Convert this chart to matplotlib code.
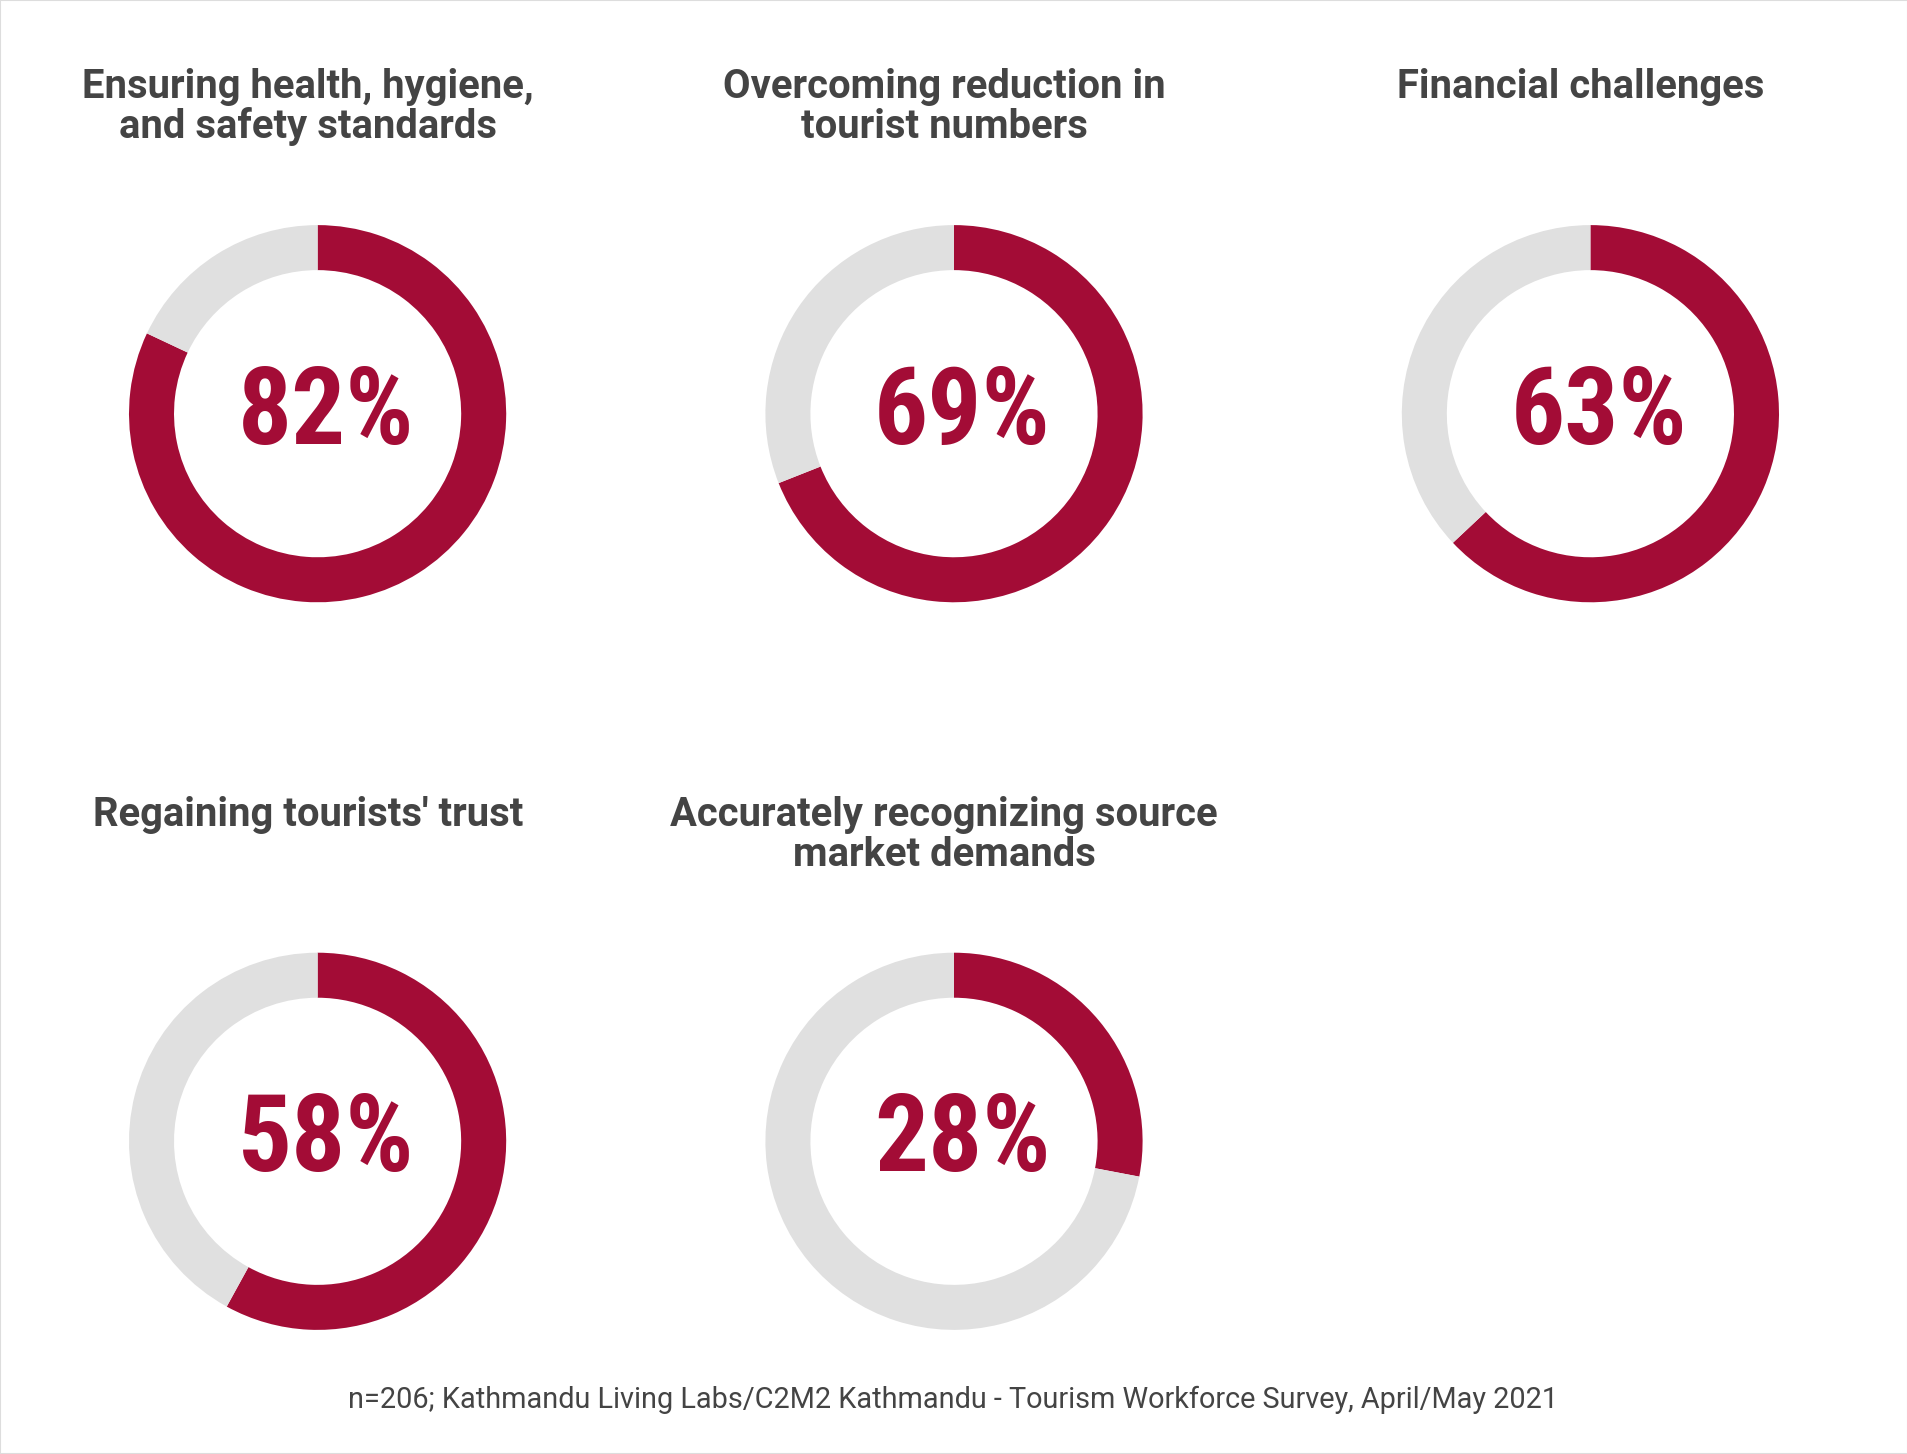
import matplotlib
matplotlib.use("Agg")
import matplotlib.pyplot as plt
from matplotlib.patches import Rectangle

# ---- data ----
titles = [
    "Ensuring health, hygiene,\nand safety standards",
    "Overcoming reduction in\ntourist numbers",
    "Financial challenges",
    "Regaining tourists' trust",
    "Accurately recognizing source\nmarket demands",
]
values = [82, 69, 63, 58, 28]
footer = "n=206; Kathmandu Living Labs/C2M2 Kathmandu - Tourism Workforce Survey, April/May 2021"

RED = "#A30C36"
GRAY = "#E0E0E0"
TXT = "#444444"

W, H = 1908, 1454
fig = plt.figure(figsize=(W / 100, H / 100), dpi=100)
fig.patch.set_facecolor("white")

# reference layout measured on a 1568-wide basis
BW, BH = 1568.0, 1195.0
centers_x = [261, 784, 1307]
centers_y = [340, 938]
R = 155.0
ring = 37.0

pct_font = ["Roboto Condensed", "Liberation Sans Narrow", "Roboto"]

for i, (t, v) in enumerate(zip(titles, values)):
    cx = centers_x[i % 3]
    cy = centers_y[i // 3]
    left = (cx - R) / BW
    bottom = 1 - (cy + R) / BH
    ax = fig.add_axes([left, bottom, 2 * R / BW, 2 * R / BH])
    ax.pie([v, 100 - v], colors=[RED, GRAY], startangle=90, counterclock=False,
           radius=1.0, wedgeprops=dict(width=ring / R, linewidth=0))
    ax.set_xlim(-1, 1)
    ax.set_ylim(-1, 1)
    ax.set_aspect("equal")
    ax.axis("off")
    ax.text(0.045, -0.16, f"{v}%", ha="center", va="baseline", fontsize=77,
            fontweight="bold", color=RED, family=pct_font)

    # titles
    base = cy - 259.5
    for j, line in enumerate(t.split("\n")):
        fig.text((cx - 8) / BW, 1 - (base + j * 33) / BH, line, ha="center",
                 va="baseline", fontsize=28.8, fontweight="bold", color=TXT,
                 family=["Roboto", "DejaVu Sans"])

fig.text(783 / BW, 1 - 1157 / BH, footer, ha="center", va="baseline",
         fontsize=20.8, color=TXT, family=["Roboto", "DejaVu Sans"])

fig.add_artist(Rectangle((0, 0), 1, 1, transform=fig.transFigure, fill=False,
                         edgecolor="#DDDDDD", linewidth=1.5))

fig.savefig("out.png", dpi=100, facecolor="white")
